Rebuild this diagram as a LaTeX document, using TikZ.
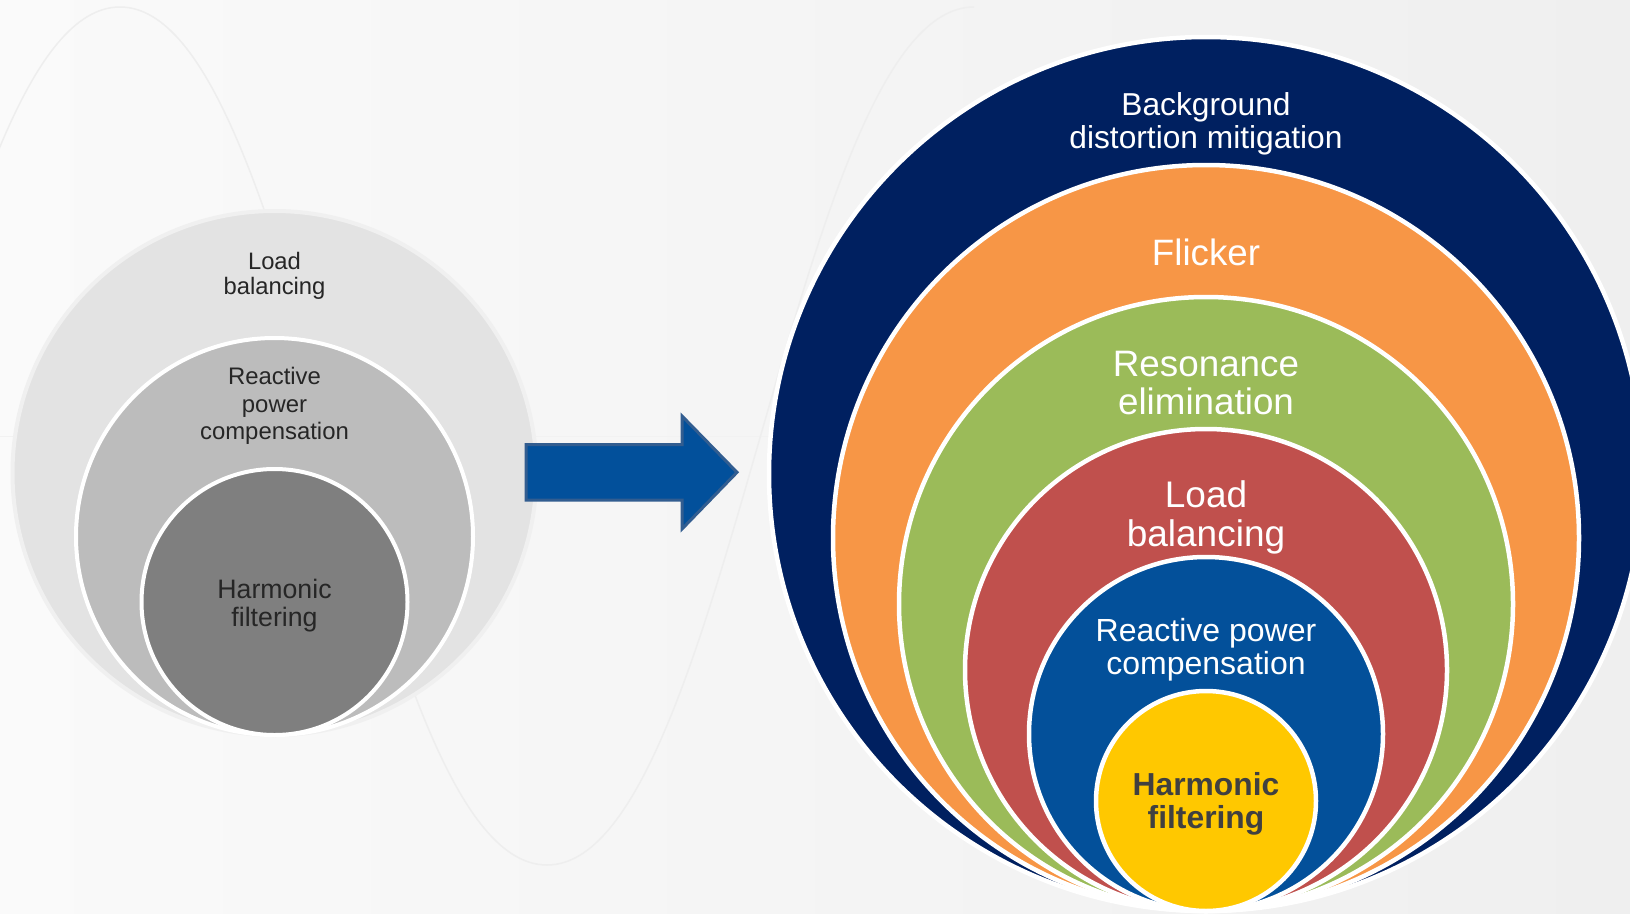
\documentclass[tikz,border=0pt]{standalone}
\usepackage{fontspec}
\setmainfont{Liberation Sans}
\definecolor{bgL}{HTML}{FAFAFA}
\definecolor{bgM}{HTML}{F6F6F6}
\definecolor{bgR}{HTML}{EFEFEF}
\definecolor{wave}{HTML}{EEEEEE}
\definecolor{greyA}{HTML}{E3E3E3}
\definecolor{greyB}{HTML}{BCBCBC}
\definecolor{greyC}{HTML}{7F7F7F}
\definecolor{darktext}{HTML}{262626}
\definecolor{navy}{HTML}{002060}
\definecolor{orangeR}{HTML}{F79646}
\definecolor{greenR}{HTML}{9BBB59}
\definecolor{redR}{HTML}{C0504D}
\definecolor{blueR}{HTML}{03509A}
\definecolor{yellowR}{HTML}{FFC800}
\definecolor{arrowfill}{HTML}{02509B}
\definecolor{arrowedge}{HTML}{325D90}
\definecolor{hftext}{HTML}{404040}
\begin{document}
\begin{tikzpicture}[x=1pt,y=-1pt,
  ring/.style={circle, draw=white, line width=4.5pt, inner sep=0pt, outer sep=0pt},
  lring/.style={circle, draw=white, line width=4pt, inner sep=0pt, outer sep=0pt},
  rlabel/.style={align=center, inner sep=0pt, text=white},
  llabel/.style={align=center, inner sep=0pt, text=darktext}]

% page background
\useasboundingbox (0,0) rectangle (1630,913);
\shade[left color=bgL, middle color=bgM, right color=bgR] (0,0) rectangle (1630,913);
\draw[color=wave!50!bgM, line width=1pt] (0,436) -- (1000,436);
% faint decorative wave behind the rings
\draw[wave, line width=1.5pt]
  (-307,865) .. controls (-126,865) and (-61,7) .. (120,7)
  .. controls (301,7) and (366,865) .. (547,865)
  .. controls (728,865) and (793,7) .. (974,7);

\begin{scope}
\clip (0,0) rectangle (1630,913);

% ---- left: three nested services ----
\node[lring, fill=greyA, draw=white!45!greyA, minimum size=524pt] (lload) at (274.5,473) {};
\node[lring, fill=greyB, minimum size=397pt] (lreact) at (274.5,536.5) {};
\node[lring, fill=greyC, minimum size=266pt] (lharm) at (274.5,602) {};

\node[llabel, font=\fontsize{23.8}{25}\selectfont] (tlload) at (274.5,275.5) {Load\\balancing};
\node[llabel, font=\fontsize{23.9}{27.5}\selectfont] (tlreact) at (274.5,406) {Reactive\\power\\compensation};
\node[llabel, font=\fontsize{26.7}{28}\selectfont] (tlharm) at (274.5,606) {Harmonic\\filtering};

% ---- block arrow ----
\coordinate (a1) at (526,444.5);
\coordinate (a2) at (682,444.5);
\coordinate (a3) at (682,416);
\coordinate (a4) at (737,472.3);
\coordinate (a5) at (682,529);
\coordinate (a6) at (682,500);
\coordinate (a7) at (526,500);
\fill[arrowfill, draw=arrowedge, line width=3pt, line join=miter]
  (a1) -- (a2) -- (a3) -- (a4) -- (a5) -- (a6) -- (a7) -- cycle;

% ---- right: six nested services ----
\node[ring, fill=navy, minimum size=874pt] (rbg) at (1206,474) {};
\node[ring, fill=orangeR, minimum size=746pt] (rfl) at (1206,538) {};
\node[ring, fill=greenR, minimum size=614pt] (rres) at (1206,604) {};
\node[ring, fill=redR, minimum size=482pt] (rload) at (1206,670) {};
\node[ring, fill=blueR, minimum size=354pt] (rreact) at (1206,734) {};
\node[ring, fill=yellowR, minimum size=220pt] (rharm) at (1206,801) {};

\node[rlabel, font=\fontsize{31.7}{33}\selectfont] (tbg) at (1206,124) {Background\\distortion mitigation};
\node[rlabel, font=\fontsize{36.7}{38.5}\selectfont] (tfl) at (1206,252) {Flicker};
\node[rlabel, font=\fontsize{36.8}{38.5}\selectfont] (tres) at (1206,383) {Resonance\\elimination};
\node[rlabel, font=\fontsize{37}{38.5}\selectfont] (tload) at (1206,517.5) {Load\\balancing};
\node[rlabel, font=\fontsize{32}{33}\selectfont] (treact) at (1206,650) {Reactive power\\compensation};
\node[rlabel, text=hftext, font=\bfseries\fontsize{31.8}{33}\selectfont] (tharm) at (1206,803.5) {Harmonic\\filtering};
\end{scope}
\end{tikzpicture}
\end{document}
